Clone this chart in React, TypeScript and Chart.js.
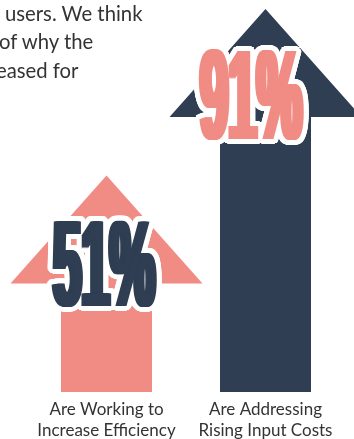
import React, { useEffect, useRef } from "react";
import { Chart, registerables } from "chart.js";

Chart.register(...registerables);

// ---- data ----
const categories: string[][] = [
  ["Are Working to", "Increase Efficiency"],
  ["Are Addressing", "Rising Input Costs"],
];
const values: number[] = [51, 91];
const arrowColors: string[] = ["#F08C84", "#2F3E52"];
const labelColors: string[] = ["#2F3E52", "#F08C84"];
const introLines: string[] = ["users. We think", "of why the", "eased for"];

// ---- styles ----
const arrowStyle = {
  headHalfRatio: 96 / 91,
  headHeightRatio: 108 / 91,
};
const labelStyle = {
  fontSizes: [122, 128],
  scaleX: [0.418, 0.398],
  dx: [-2.5, -14.5],
  baselineFromTip: 130,
  outline: 5,
  thicken: 3,
};

const arrowPlugin = {
  id: "arrows",
  afterDatasetsDraw(chart: any) {
    const ctx = chart.ctx as CanvasRenderingContext2D;
    const bottom = chart.chartArea.bottom;
    const meta = chart.getDatasetMeta(0);
    meta.data.forEach((bar: any, i: number) => {
      const { x, y, width } = bar.getProps(["x", "y", "width"], true);
      const half = width / 2;
      const headHalf = width * arrowStyle.headHalfRatio;
      const headH = width * arrowStyle.headHeightRatio;
      ctx.save();
      ctx.fillStyle = arrowColors[i];
      ctx.beginPath();
      ctx.moveTo(x, y);
      ctx.lineTo(x + headHalf, y + headH);
      ctx.lineTo(x + half, y + headH);
      ctx.lineTo(x + half, bottom);
      ctx.lineTo(x - half, bottom);
      ctx.lineTo(x - half, y + headH);
      ctx.lineTo(x - headHalf, y + headH);
      ctx.closePath();
      ctx.fill();
      ctx.restore();
    });
  },
  afterDraw(chart: any) {
    const ctx = chart.ctx as CanvasRenderingContext2D;
    const meta = chart.getDatasetMeta(0);
    meta.data.forEach((bar: any, i: number) => {
      const { x, y } = bar.getProps(["x", "y"], true);
      const text = `${values[i]}%`;
      const cx = x + labelStyle.dx[i];
      const by = y + labelStyle.baselineFromTip;
      const sx = labelStyle.scaleX[i];
      ctx.save();
      ctx.font = `bold ${labelStyle.fontSizes[i]}px "Liberation Sans", Arial, sans-serif`;
      ctx.textAlign = "center";
      ctx.textBaseline = "alphabetic";
      const draw = (ox: number, oy: number) => {
        ctx.save();
        ctx.translate(cx + ox, by + oy);
        ctx.scale(sx, 1);
        ctx.fillText(text, 0, 0);
        ctx.restore();
      };
      const t = labelStyle.thicken;
      const drawThick = (ox: number, oy: number) => {
        for (let k = -t; k <= t; k++) draw(ox + k, oy);
      };
      ctx.fillStyle = "#FFFFFF";
      const r = labelStyle.outline;
      for (const rr of [r, r * 0.5]) {
        for (let a = 0; a < 24; a++) {
          const ang = (a / 24) * Math.PI * 2;
          drawThick(Math.cos(ang) * rr, Math.sin(ang) * rr);
        }
      }
      ctx.fillStyle = labelColors[i];
      drawThick(0, 0);
      ctx.restore();
    });
  },
};

export default function App() {
  const canvasRef = useRef<HTMLCanvasElement | null>(null);

  useEffect(() => {
    if (!canvasRef.current) return;
    const chart = new Chart(canvasRef.current, {
      type: "bar",
      data: {
        labels: categories,
        datasets: [
          {
            data: values,
            backgroundColor: "rgba(0,0,0,0)",
            borderWidth: 0,
            barPercentage: 1,
            categoryPercentage: 91 / 159,
          },
        ],
      },
      options: {
        animation: false,
        responsive: false,
        maintainAspectRatio: false,
        layout: { padding: { top: 9, left: 27, right: 9, bottom: 0 } },
        plugins: {
          legend: { display: false },
          tooltip: { enabled: false },
          title: { display: false },
        },
        scales: {
          x: {
            grid: { display: false, drawTicks: false },
            border: { display: false },
            afterFit: (scale: any) => {
              scale.height = 47;
            },
            ticks: {
              padding: 7,
              color: "#333333",
              font: { family: "Lato", size: 17, lineHeight: 1.22 },
            },
          },
          y: { display: false, min: -1, max: 91 },
        },
      },
      plugins: [arrowPlugin],
    });
    return () => chart.destroy();
  }, []);

  const lineLefts = [5, -1, -4];
  return (
    <div style={{ position: "absolute", left: 0, top: 0, width: 354, height: 439, overflow: "hidden", background: "#fff" }}>
      <canvas ref={canvasRef} width={354} height={439} style={{ position: "absolute", left: 0, top: 0 }} />
      {introLines.map((t, i) => (
        <div
          key={i}
          style={{
            position: "absolute",
            left: lineLefts[i],
            top: -1.3 + i * 28.4,
            fontFamily: "Lato, sans-serif",
            fontSize: 20.3,
            lineHeight: "28.4px",
            color: "#333333",
            whiteSpace: "pre",
          }}
        >
          {t}
        </div>
      ))}
    </div>
  );
}
